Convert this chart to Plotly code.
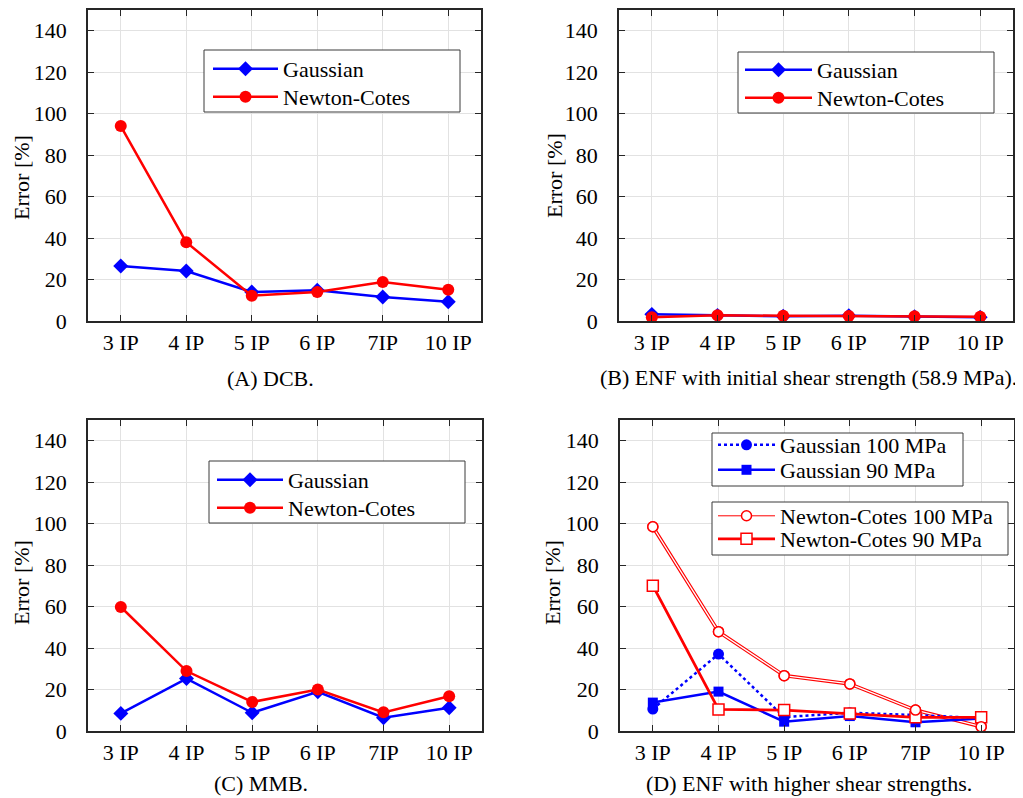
import plotly.graph_objects as go

# page offset of the plot div (default body margin)
OFF = 8
W, H = 1015, 790

categories = ["3 IP", "4 IP", "5 IP", "6 IP", "7IP", "10 IP"]

# (A) DCB
a_gauss = [26.5, 24.1, 14.0, 14.8, 11.6, 9.3]
a_nc = [94.0, 38.0, 12.2, 14.0, 18.8, 15.1]
# (B) ENF initial shear strength
b_gauss = [3.2, 2.7, 2.3, 2.5, 2.0, 1.8]
b_nc = [1.8, 2.8, 2.5, 2.4, 2.3, 2.0]
# (C) MMB
c_gauss = [8.5, 25.3, 8.8, 18.9, 6.4, 11.2]
c_nc = [59.8, 28.9, 14.0, 20.0, 9.0, 16.8]
# (D) ENF higher shear strengths
d_gauss100 = [10.6, 37.1, 6.7, 8.8, 7.7, 6.2]
d_gauss90 = [13.7, 19.0, 4.5, 7.2, 4.2, 6.0]
d_nc100 = [98.5, 47.9, 26.7, 22.7, 10.1, 2.1]
d_nc90 = [70.1, 10.4, 10.1, 8.5, 6.6, 6.6]

yticks = [0, 20, 40, 60, 80, 100, 120, 140]
captions = ["(A) DCB.", "(B) ENF with initial shear strength (58.9 MPa).",
            "(C) MMB.", "(D) ENF with higher shear strengths."]
ytitle = "Error [%]"

FONT = "Liberation Serif, Times New Roman, serif"
BLUE = "#0000ff"
RED = "#ff0000"
AX = "#262626"
GRID = "#e2e2e2"
FS = 22

def px(x):
    return (x - OFF) / W

def py(y):
    return 1 - (y - OFF) / H

# panel boxes in page pixels: (left, right, top, bottom)
boxes = [(88, 481, 10, 321), (619, 1013, 10, 321),
         (88, 482, 420, 731), (620, 1014, 420, 731)]

fig = go.Figure()

def ax(i):
    return ("x" if i == 1 else f"x{i}", "y" if i == 1 else f"y{i}")

def std_pair(i, g, n, lg, ln):
    xa, ya = ax(i)
    fig.add_trace(go.Scatter(x=categories, y=g, name="Gaussian", mode="lines+markers",
                             line=dict(color=BLUE, width=2.5),
                             marker=dict(symbol="diamond", size=11.5, color=BLUE),
                             xaxis=xa, yaxis=ya, legend=lg))
    fig.add_trace(go.Scatter(x=categories, y=n, name="Newton-Cotes", mode="lines+markers",
                             line=dict(color=RED, width=2.5),
                             marker=dict(symbol="circle", size=12, color=RED),
                             xaxis=xa, yaxis=ya, legend=ln))

std_pair(1, a_gauss, a_nc, "legend", "legend2")
std_pair(2, b_gauss, b_nc, "legend3", "legend4")
std_pair(3, c_gauss, c_nc, "legend5", "legend6")

# panel D
fig.add_trace(go.Scatter(x=categories, y=d_nc100, name="Newton-Cotes 100 MPa", mode="lines+markers",
                         line=dict(color=RED, width=1),
                         marker=dict(symbol="circle", size=10, color="white", line=dict(color=RED, width=1.5)),
                         xaxis="x4", yaxis="y4", legend="legend9"))
fig.add_trace(go.Scatter(x=categories, y=d_nc100, mode="lines", showlegend=False,
                         line=dict(color=RED, width=3.6), xaxis="x4", yaxis="y4", hoverinfo="skip"))
fig.add_trace(go.Scatter(x=categories, y=d_nc100, mode="lines", showlegend=False,
                         line=dict(color="white", width=1.3), xaxis="x4", yaxis="y4", hoverinfo="skip"))
fig.add_trace(go.Scatter(x=categories, y=d_gauss100, name="Gaussian 100 MPa", mode="lines+markers",
                         line=dict(color=BLUE, width=2.5, dash="dot"),
                         marker=dict(symbol="circle", size=11, color=BLUE),
                         xaxis="x4", yaxis="y4", legend="legend7"))
fig.add_trace(go.Scatter(x=categories, y=d_gauss90, name="Gaussian 90 MPa", mode="lines+markers",
                         line=dict(color=BLUE, width=2.5),
                         marker=dict(symbol="square", size=10, color=BLUE),
                         xaxis="x4", yaxis="y4", legend="legend8"))
fig.add_trace(go.Scatter(x=categories, y=d_nc90, name="Newton-Cotes 90 MPa", mode="lines+markers",
                         line=dict(color=RED, width=2.8),
                         marker=dict(symbol="square", size=11, color="white", line=dict(color=RED, width=1.5)),
                         xaxis="x4", yaxis="y4", legend="legend10"))
fig.add_trace(go.Scatter(x=categories, y=d_nc100, mode="markers", showlegend=False,
                         marker=dict(symbol="circle", size=10, color="white", line=dict(color=RED, width=1.5)),
                         xaxis="x4", yaxis="y4", hoverinfo="skip"))

layout = dict(
    width=W, height=H,
    margin=dict(l=0, r=0, t=0, b=0, autoexpand=False),
    paper_bgcolor="white", plot_bgcolor="white",
    font=dict(family=FONT, size=FS, color="black"),
    annotations=[], shapes=[],
)

for i, (l, r, t, b) in enumerate(boxes, start=1):
    xk = "xaxis" if i == 1 else f"xaxis{i}"
    yk = "yaxis" if i == 1 else f"yaxis{i}"
    xa, ya = ax(i)
    common = dict(showline=True, linecolor=AX, linewidth=1.6, mirror="ticks",
                  ticks="inside", ticklen=6, tickwidth=1.4, tickcolor=AX,
                  showgrid=True, gridcolor=GRID, gridwidth=1, zeroline=False,
                  automargin=False,
                  tickfont=dict(family=FONT, size=FS, color="black"))
    layout[xk] = dict(domain=[px(l), px(r)], anchor=ya, type="category",
                      categoryorder="array", categoryarray=categories,
                      range=[-0.5, 5.5], ticklabelstandoff=1, **common)
    layout[yk] = dict(domain=[py(b), py(t)], anchor=xa, range=[0, 150],
                      tickvals=yticks, ticklabelstandoff=15, **common)

# y-axis titles
for (tx, ty) in [(21, 178), (554, 176), (21, 583), (552, 583)]:
    layout["annotations"].append(dict(text=ytitle, x=px(tx), y=py(ty), xref="paper", yref="paper",
                                      xanchor="center", yanchor="middle", showarrow=False,
                                      textangle=-90,
                                      font=dict(family=FONT, size=FS, color="black")))

cap_pos = [(270, 378), (808, 377), (261, 783), (809, 783)]
for txt, (cx, cy) in zip(captions, cap_pos):
    layout["annotations"].append(dict(text=txt, x=px(cx), y=py(cy), xref="paper", yref="paper",
                                      xanchor="center", yanchor="middle", showarrow=False,
                                      font=dict(family=FONT, size=FS, color="black")))

# legend boxes: (left, top, right, bottom, line start x, item width, [item centre y...], [legend ids])
legend_boxes = [
    (204, 50, 460, 112, 213, 65, [69, 97], ["legend", "legend2"]),
    (738, 52, 994, 113, 745, 67, [70, 98], ["legend3", "legend4"]),
    (209, 461, 465, 523, 217, 66, [480, 508], ["legend5", "legend6"]),
    (712, 433, 963, 486, 718, 57, [445, 470], ["legend7", "legend8"]),
    (712, 502, 1008, 555, 718, 57, [516, 539], ["legend9", "legend10"]),
]
for (l, t, r, b, lx, iw, ys, ids) in legend_boxes:
    layout["shapes"].append(dict(type="rect", xref="paper", yref="paper",
                                 x0=px(l), x1=px(r), y0=py(b), y1=py(t),
                                 fillcolor="white", line=dict(color="#3a3a3a", width=1),
                                 layer="above"))
    for yy, lid in zip(ys, ids):
        layout[lid] = dict(x=px(lx - 5), y=py(yy), xanchor="left", yanchor="middle",
                           bgcolor="rgba(0,0,0,0)", borderwidth=0, itemwidth=iw,
                           font=dict(family=FONT, size=FS, color="black"))

fig.update_layout(**layout)
fig.write_html("out.html")
